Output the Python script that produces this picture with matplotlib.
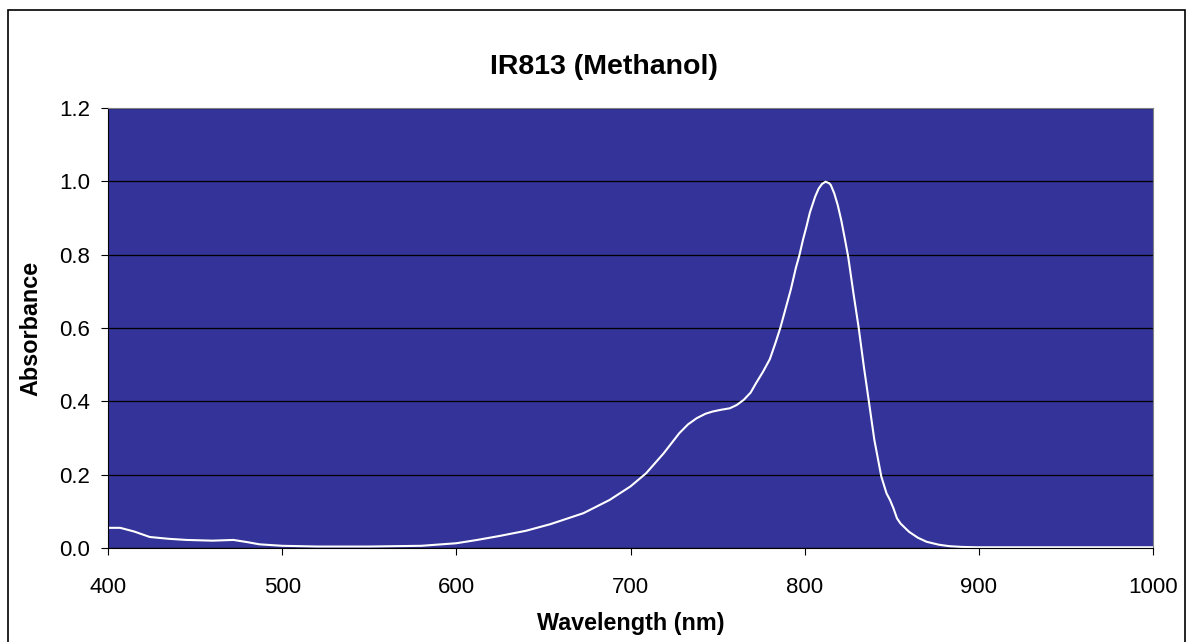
import matplotlib
matplotlib.use("Agg")
from matplotlib import pyplot as plt
from matplotlib.patches import Rectangle

# spectrum
wavelength = [400, 407, 415, 424, 435, 445, 460, 472, 480, 487, 500, 520, 550, 580,
              600, 612, 625, 640, 654, 673, 688, 700, 709, 719, 728, 733, 738, 743,
              747, 752, 757, 761, 765, 769, 772, 776, 780, 783, 786, 789, 792, 795,
              797, 799, 801, 803, 806, 808, 810, 812, 814, 815, 817, 819, 821, 823,
              825, 828, 831, 834, 837, 840, 844, 847, 849, 851, 853, 855, 858, 860,
              865, 870, 877, 883, 890, 899, 920, 950, 1000]
absorbance = [0.055, 0.055, 0.045, 0.030, 0.025, 0.022, 0.020, 0.022, 0.016, 0.010,
              0.006, 0.004, 0.004, 0.006, 0.013, 0.022, 0.033, 0.047, 0.065, 0.095,
              0.131, 0.168, 0.204, 0.258, 0.313, 0.337, 0.354, 0.366, 0.372, 0.377,
              0.381, 0.390, 0.404, 0.424, 0.449, 0.480, 0.515, 0.556, 0.600, 0.652,
              0.704, 0.765, 0.799, 0.840, 0.876, 0.915, 0.958, 0.980, 0.993, 0.999,
              0.995, 0.990, 0.967, 0.935, 0.894, 0.845, 0.794, 0.695, 0.601, 0.494,
              0.395, 0.295, 0.195, 0.149, 0.131, 0.108, 0.081, 0.067, 0.053, 0.044,
              0.028, 0.017, 0.009, 0.005, 0.003, 0.002, 0.002, 0.002, 0.002]
yticks = [0.0, 0.2, 0.4, 0.6, 0.8, 1.0, 1.2]
xticks = [400, 500, 600, 700, 800, 900, 1000]

plt.rcParams['font.family'] = ['Liberation Sans', 'DejaVu Sans']

fig = plt.figure(figsize=(11.87, 6.42), dpi=100)
ax = fig.add_axes([108/1187, 94/642, 1045/1187, 440/642])
ax.set_facecolor('#333399')
ax.plot(wavelength, absorbance, color='white', linewidth=1.5)

ax.set_xlim(400, 1000)
ax.set_ylim(0, 1.2)
ax.set_xticks(xticks)
ax.set_yticks(yticks)
ax.set_yticklabels(["%.1f" % v for v in yticks])
ax.yaxis.grid(True, color='black', linewidth=0.9)
ax.set_axisbelow(True)
ax.tick_params(axis='both', labelsize=16, direction='out', length=5, width=0.8, color='black')
ax.tick_params(axis='x', pad=16)
ax.tick_params(axis='y', pad=8)

for s in ['top', 'right']:
    ax.spines[s].set_color('#808080')
for s in ['left', 'bottom']:
    ax.spines[s].set_color('black')

ax.set_xlabel("Wavelength (nm)", fontsize=16.8, fontweight='bold', labelpad=10)
ax.set_ylabel("Absorbance", fontsize=16.8, fontweight='bold', labelpad=12)
fig.text(604/1187, (642-74)/642, "IR813 (Methanol)", fontsize=20.5, fontweight='bold',
         ha='center', va='baseline')

fig.patches.append(Rectangle((8/1187, -0.05), 1177/1187, (642-10)/642 + 0.05,
                             transform=fig.transFigure, fill=False,
                             edgecolor='black', linewidth=1.2))

fig.savefig('out.png', dpi=100)
